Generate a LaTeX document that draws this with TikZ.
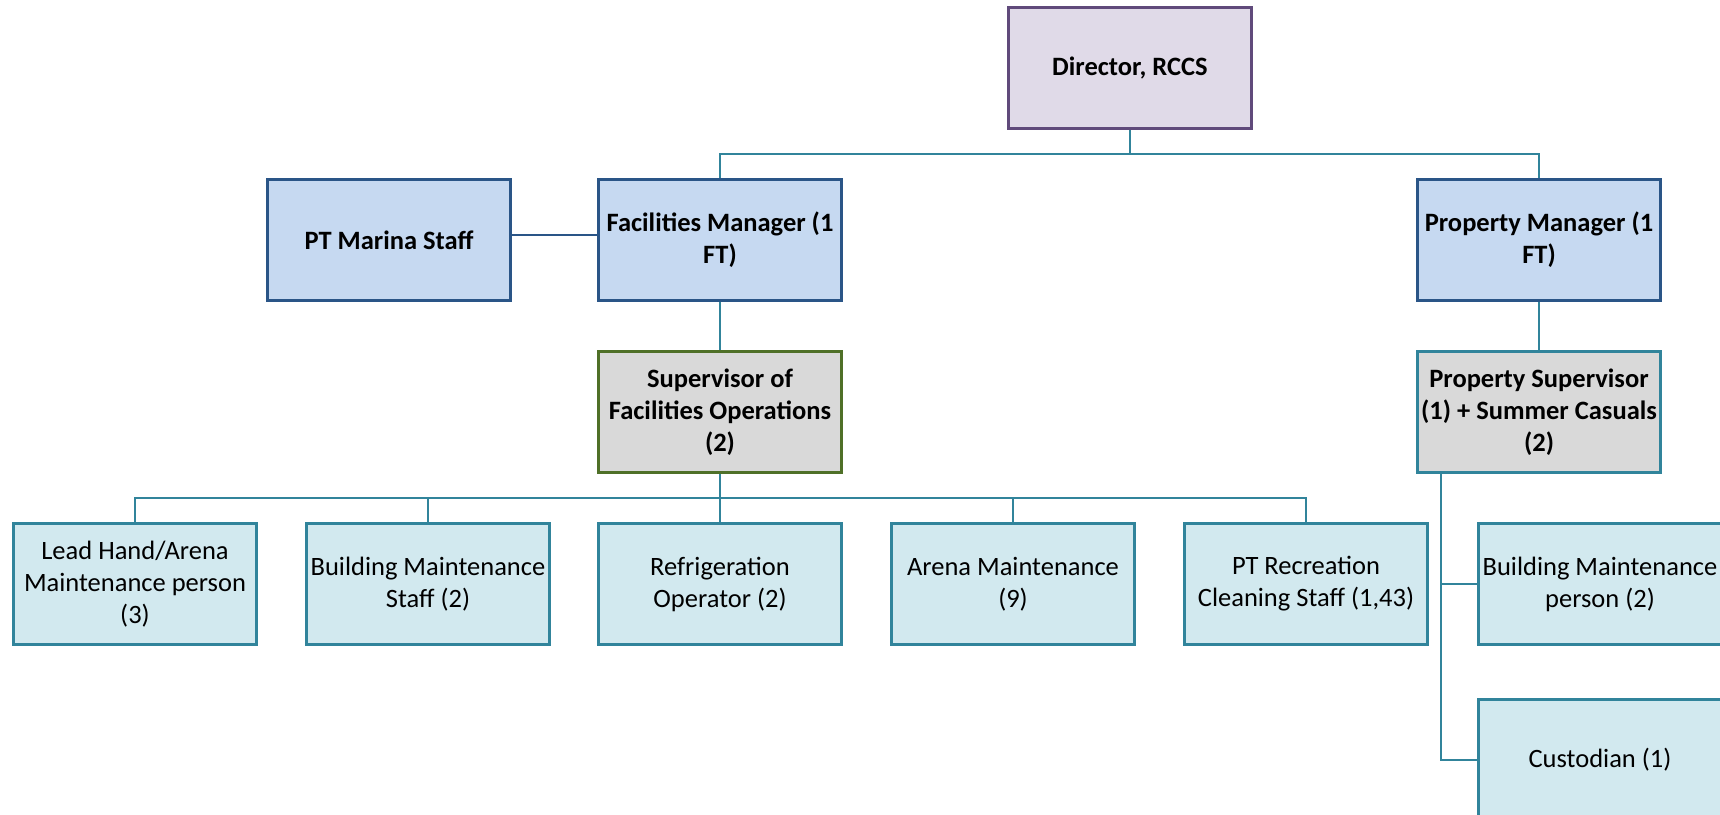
\documentclass[tikz,border=0pt]{standalone}
\usepackage{fontspec}
\setmainfont{Carlito}
\usetikzlibrary{positioning, calc}

\definecolor{teal1}{HTML}{31849B}
\definecolor{navy1}{HTML}{2A5587}
\definecolor{purple1}{HTML}{604A7B}
\definecolor{green1}{HTML}{4F7028}
\definecolor{lilac}{HTML}{E0DAE8}
\definecolor{paleblue}{HTML}{C6D9F1}
\definecolor{paleteal}{HTML}{D2E9EF}
\definecolor{palegray}{HTML}{D9D9D9}

\begin{document}
\begin{tikzpicture}[
  x=1pt, y=1pt,
  box/.style = {draw, line width=2.4pt, minimum width=243pt, minimum height=121pt,
                align=center, inner sep=1pt, font=\fontsize{26.5}{32}\selectfont},
  head/.style = {box, draw=purple1, fill=lilac, font=\fontsize{26.5}{32}\selectfont\bfseries},
  manager/.style = {box, draw=navy1, fill=paleblue, font=\fontsize{26.5}{32}\selectfont\bfseries},
  supervisor/.style = {box, fill=palegray, font=\fontsize{26.5}{32}\selectfont\bfseries},
  staff/.style = {box, draw=teal1, fill=paleteal},
  link/.style = {line width=2.4pt, draw=teal1}
]

% Page frame
\useasboundingbox (0,0) rectangle (1720,-814);

% Top level
\node[head] (director) at (1130,-68) {Director, RCCS};

% Managers
\node[manager] (facmgr)  at (720,-240)  {Facilities Manager (1\\FT)};
\node[manager] (marina)  at (389,-240)  {PT Marina Staff};
\node[manager] (propmgr) at (1539,-240) {Property Manager (1\\FT)};

% Supervisors
\node[supervisor, draw=green1] (facsup)  at (720,-412)  {Supervisor of\\Facilities Operations\\(2)};
\node[supervisor, draw=teal1]  (propsup) at (1539,-412) {Property Supervisor\\(1) + Summer Casuals\\(2)};

% Facilities staff
\node[staff] (leadhand) at (135,-584)  {Lead Hand/Arena\\Maintenance person\\(3)};
\node[staff] (bldstaff) at (428,-584)  {Building Maintenance\\Staff (2)};
\node[staff] (refrig)   at (720,-584)  {Refrigeration\\Operator (2)};
\node[staff] (arena)    at (1013,-584) {Arena Maintenance\\(9)};
\node[staff] (cleaning) at (1306,-584) {PT Recreation\\Cleaning Staff (1,43)};

% Property staff
\node[staff] (bldperson) at (1600,-584) {Building Maintenance\\person (2)};
\node[staff] (custodian) at (1600,-760) {Custodian (1)};

% Connectors
\coordinate (topbus) at (0,-154);
\coordinate (lowbus) at (0,-498);
\coordinate (spine)  at (1441,0);

\draw[link] (director.south) -- (director.south |- topbus) -| (facmgr.north);
\draw[link] (director.south |- topbus) -| (propmgr.north);
\draw[link, draw=navy1] ([yshift=5pt]marina.east) -- ([yshift=5pt]facmgr.west);
\draw[link] (facmgr.south) -- (facsup.north);
\draw[link] (propmgr.south) -- (propsup.north);

\draw[link] (facsup.south) -- (facsup.south |- lowbus);
\foreach \n in {leadhand, bldstaff, refrig, arena, cleaning}
  \draw[link] (facsup.south |- lowbus) -| (\n.north);

\draw[link] (spine |- propsup.south) |- (bldperson.west);
\draw[link] (spine |- propsup.south) |- (custodian.west);

\end{tikzpicture}
\end{document}
